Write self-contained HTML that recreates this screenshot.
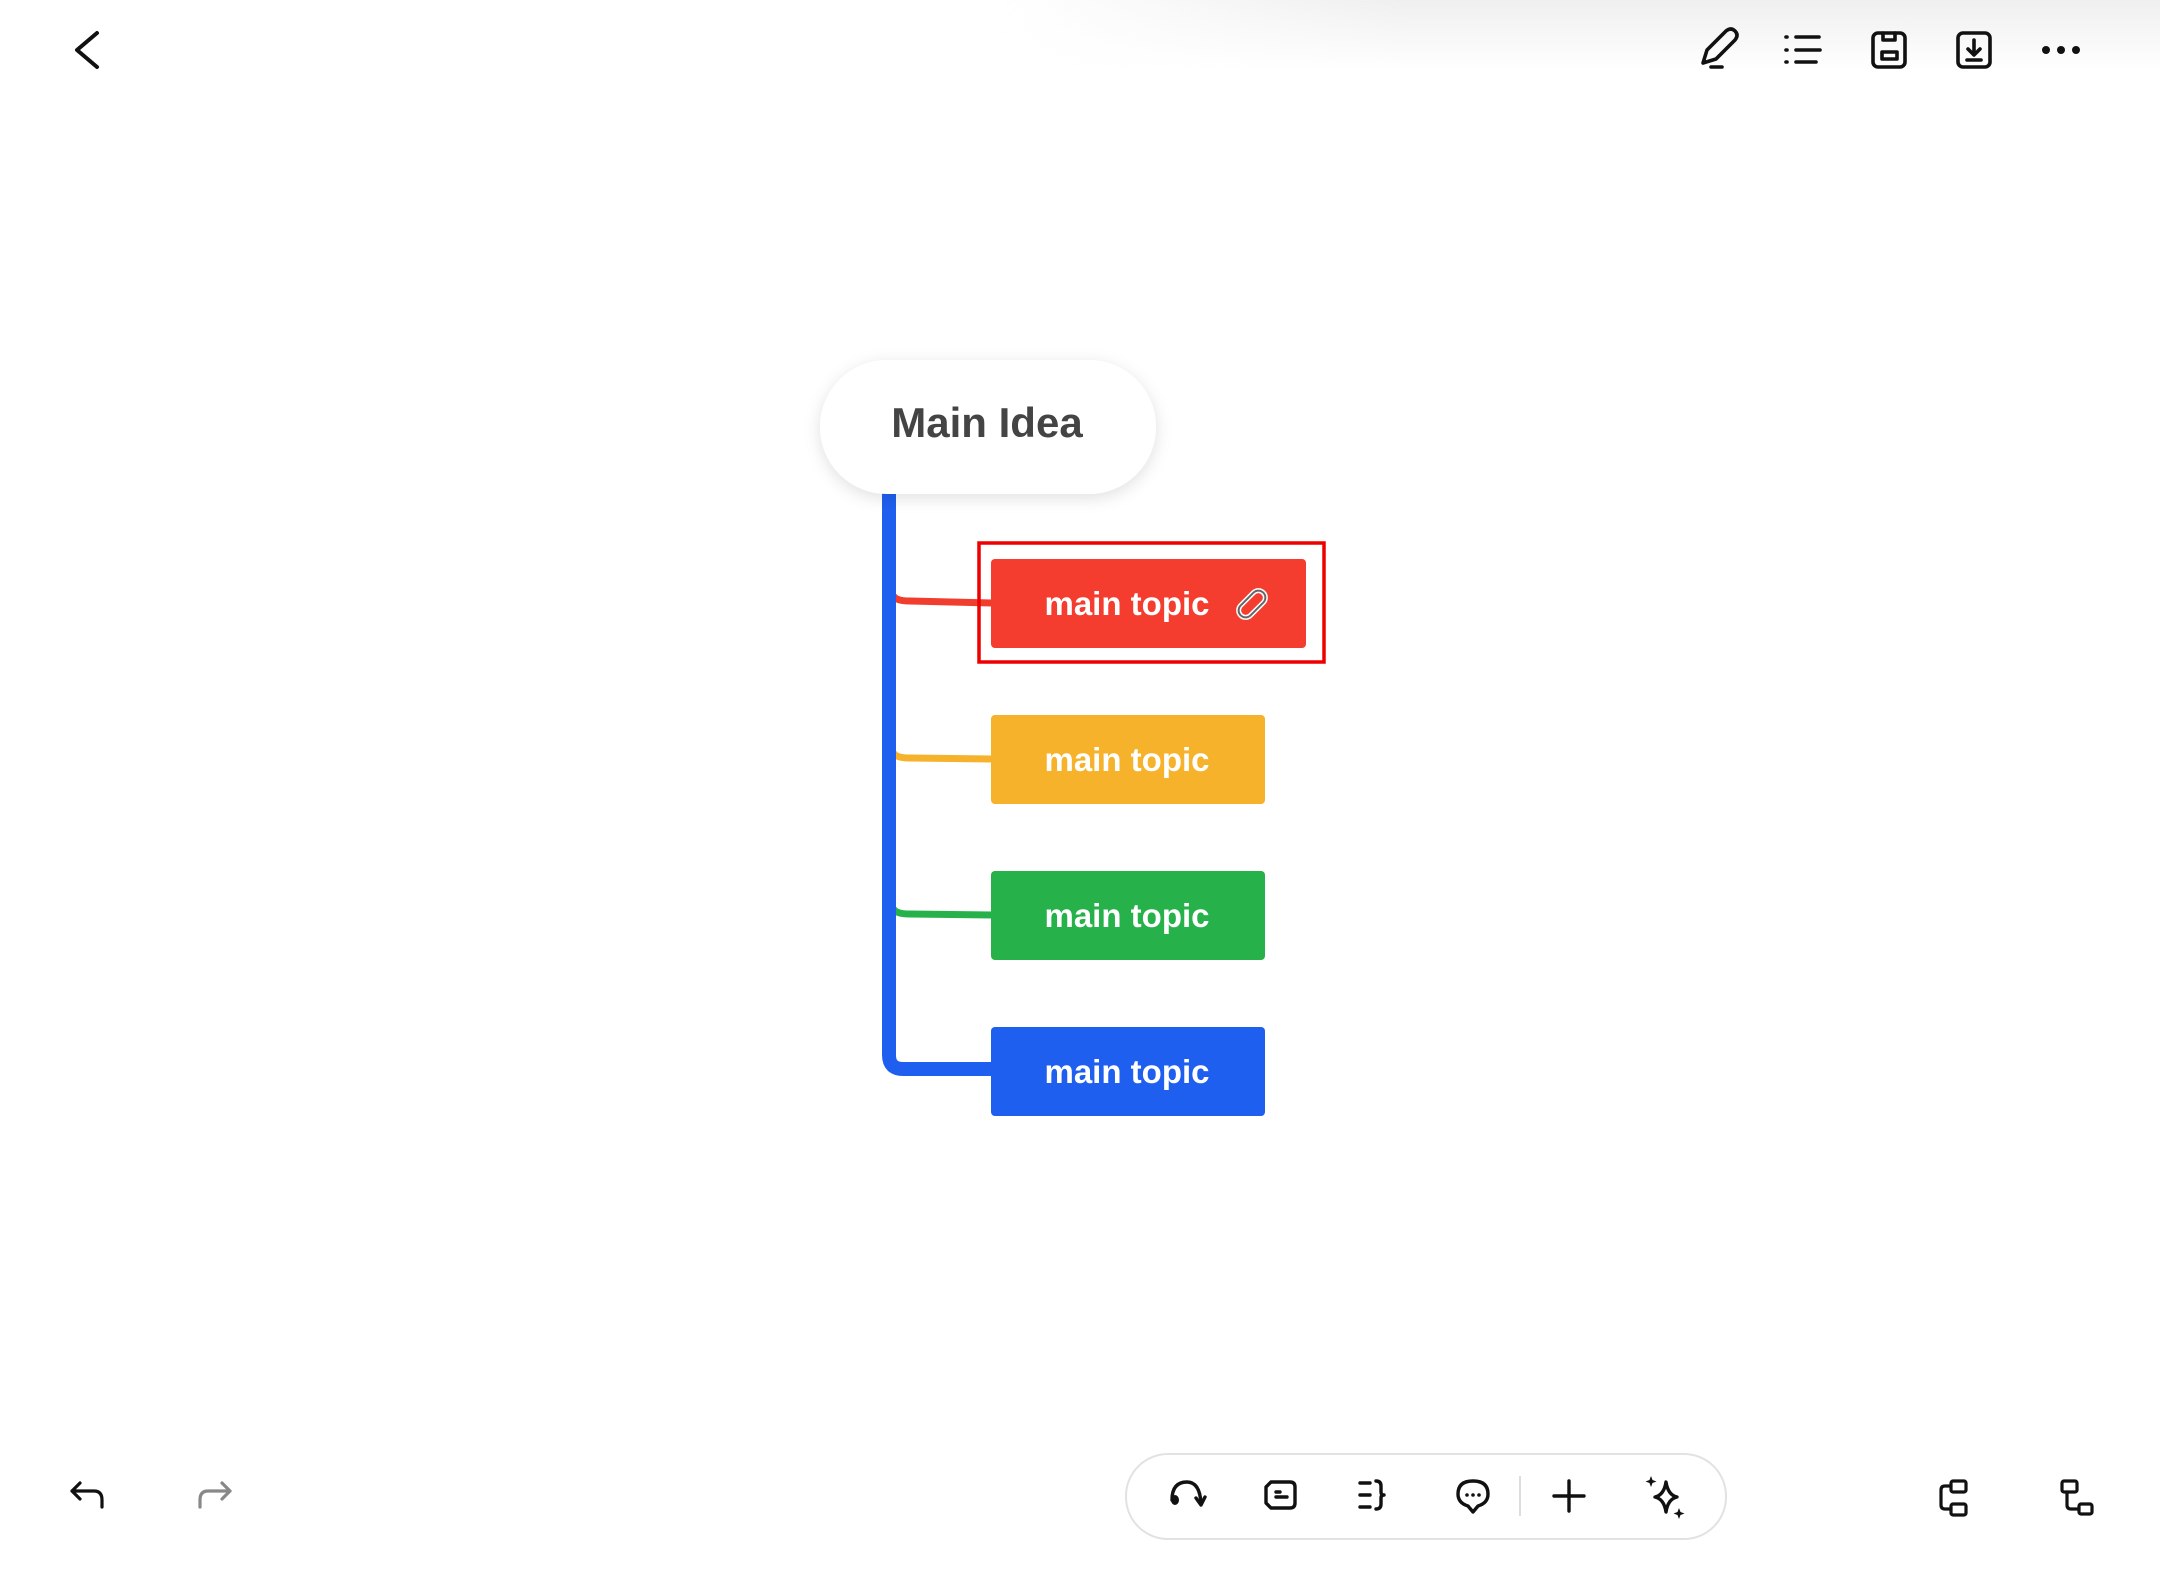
<!DOCTYPE html>
<html><head><meta charset="utf-8"><style>
html,body{margin:0;padding:0;background:#fff;}
body{width:2160px;height:1580px;overflow:hidden;position:relative;font-family:"Liberation Sans",sans-serif;}
.topshade{position:absolute;left:1000px;top:0;width:1160px;height:70px;background:linear-gradient(to bottom,#efefef,rgba(255,255,255,0));-webkit-mask-image:linear-gradient(to right,transparent,#000 35%);mask-image:linear-gradient(to right,transparent,#000 35%);}
svg{position:absolute;left:0;top:0;}
</style></head><body>
<div class="topshade"></div>
<svg width="2160" height="1580" viewBox="0 0 2160 1580" xmlns="http://www.w3.org/2000/svg">
<defs>
<filter id="sh" x="-20%" y="-30%" width="140%" height="160%"><feDropShadow dx="0" dy="4" stdDeviation="8" flood-color="#000" flood-opacity="0.12"/></filter>
</defs>
<path d="M97 33 L77 50 L97 67" fill="none" stroke="#111" stroke-width="4" stroke-linecap="round" stroke-linejoin="round"/>
<g fill="none" stroke="#111" stroke-width="3.6" stroke-linecap="round" stroke-linejoin="round">
  <path d="M1703 63 L1707 50 L1726 31 Q1731 27 1735 31 Q1739 35 1735 40 L1716 59 Z"/>
  <path d="M1711 67 L1722 67"/>
  <path d="M1786 37 L1787 37 M1786 50 L1787 50 M1786 62 L1787 62"/>
  <path d="M1796 37 L1819 37 M1796 50 L1820 50 M1796 62 L1816 62"/>
  <rect x="1873" y="33" width="32" height="34" rx="5"/>
  <path d="M1883 33 L1883 40 L1895 40 L1895 33"/>
  <rect x="1882" y="52" width="15" height="7"/>
  <rect x="1958" y="33" width="32" height="34" rx="5"/>
  <path d="M1974 40 L1974 54 M1968 49 L1974 55 L1980 49 M1967 60 L1981 60"/>
</g>
<g fill="#111"><circle cx="2046" cy="50" r="4"/><circle cx="2061" cy="50" r="4"/><circle cx="2076" cy="50" r="4"/></g>

<g fill="none" stroke-width="7" stroke-linecap="butt">
  <path d="M893 595 Q895 601 910 601 L992 603" stroke="#f03d2d"/>
  <path d="M893 752 Q895 758 910 758 L992 759" stroke="#f6b22a"/>
  <path d="M893 908 Q895 914 910 914 L992 915" stroke="#27b14b"/>
</g>
<path d="M889 492 L889 1055 Q889 1069 903 1069 L992 1069" fill="none" stroke="#1f5ff0" stroke-width="14"/>

<rect x="820" y="360" width="336" height="134" rx="67" fill="#fff" filter="url(#sh)"/>
<text x="987" y="437" text-anchor="middle" font-family="Liberation Sans, sans-serif" font-weight="bold" font-size="42" fill="#444">Main Idea</text>

<rect x="979" y="543" width="345" height="119" fill="none" stroke="#e00" stroke-width="3.5"/>
<rect x="991" y="559" width="315" height="89" rx="4" fill="#f43d2e"/>
<text x="1127" y="615" text-anchor="middle" font-family="Liberation Sans, sans-serif" font-weight="bold" font-size="33" fill="#fff">main topic</text>
<g transform="translate(1252,604) rotate(-45)">
  <rect x="-16" y="-7" width="32" height="14" rx="7" fill="none" stroke="#fff" stroke-width="5"/>
  <rect x="-16" y="-7" width="32" height="14" rx="7" fill="none" stroke="#666" stroke-width="2"/>
</g>
<rect x="991" y="715" width="274" height="89" rx="4" fill="#f6b22a"/>
<text x="1127" y="771" text-anchor="middle" font-family="Liberation Sans, sans-serif" font-weight="bold" font-size="33" fill="#fff">main topic</text>
<rect x="991" y="871" width="274" height="89" rx="4" fill="#27b14b"/>
<text x="1127" y="927" text-anchor="middle" font-family="Liberation Sans, sans-serif" font-weight="bold" font-size="33" fill="#fff">main topic</text>
<rect x="991" y="1027" width="274" height="89" rx="4" fill="#1f5ff0"/>
<text x="1127" y="1083" text-anchor="middle" font-family="Liberation Sans, sans-serif" font-weight="bold" font-size="33" fill="#fff">main topic</text>

<g fill="none" stroke-width="3.2" stroke-linecap="round" stroke-linejoin="round">
  <path d="M80 1483 L72 1491 L80 1499 M72 1491 L94 1491 Q102 1491 102 1500 L102 1507" stroke="#111"/>
  <path d="M222 1483 L230 1491 L222 1499 M230 1491 L208 1491 Q200 1491 200 1500 L200 1507" stroke="#888"/>
</g>

<rect x="1126" y="1454" width="600" height="85" rx="42" fill="#fff" stroke="#e2e2e2" stroke-width="2"/>
<line x1="1520" y1="1476" x2="1520" y2="1516" stroke="#ddd" stroke-width="2"/>
<g fill="none" stroke="#111" stroke-width="3.4" stroke-linecap="round" stroke-linejoin="round">
  <path d="M1172 1500 Q1172 1482 1187 1482 Q1200 1482 1201 1504"/>
  <path d="M1196 1498 L1201 1505 L1205 1497"/>
  <path d="M1271 1482 L1290 1482 Q1295 1482 1295 1487 L1295 1503 Q1295 1508 1290 1508 L1271 1508 L1266 1503 L1266 1487 Z"/>
  <path d="M1276 1492 L1280 1492 M1276 1497 L1287 1497"/>
  <path d="M1360 1483 L1370 1483 M1360 1495 L1370 1495 M1360 1507 L1370 1507"/>
  <path d="M1376 1481 Q1381 1481 1381 1486 L1381 1492 Q1381 1495 1384 1495 Q1381 1495 1381 1498 L1381 1504 Q1381 1509 1376 1509"/>
  <path d="M1473 1512 L1468 1506 Q1458 1503 1458 1494 Q1458 1481 1473 1481 Q1488 1481 1488 1494 Q1488 1503 1478 1506 Z"/>
  <path d="M1569 1481 L1569 1511 M1554 1496 L1584 1496"/>
  <path d="M1666 1482 Q1668 1495 1677 1497 Q1668 1499 1666 1512 Q1664 1499 1655 1497 Q1664 1495 1666 1482 Z"/>
</g>
<g fill="#111"><circle cx="1467" cy="1495" r="1.8"/><circle cx="1473" cy="1495" r="1.8"/><circle cx="1479" cy="1495" r="1.8"/>
<path d="M1651 1476 l1.5 4 4 1.5 -4 1.5 -1.5 4 -1.5 -4 -4 -1.5 4 -1.5z"/>
<path d="M1679 1508 l1.5 4 4 1.5 -4 1.5 -1.5 4 -1.5 -4 -4 -1.5 4 -1.5z"/>
<ellipse cx="1175" cy="1500" rx="4" ry="5"/></g>

<g fill="none" stroke="#111" stroke-width="3.2" stroke-linecap="round" stroke-linejoin="round">
  <rect x="1951" y="1481" width="15" height="11" rx="2"/>
  <rect x="1951" y="1504" width="15" height="11" rx="2"/>
  <path d="M1951 1486 L1945 1486 Q1941 1486 1941 1490 L1941 1505 Q1941 1509 1945 1509 L1951 1509"/>
  <rect x="2062" y="1481" width="15" height="11" rx="2"/>
  <rect x="2079" y="1504" width="13" height="10" rx="2"/>
  <path d="M2067 1492 L2067 1505 Q2067 1509 2071 1509 L2079 1509"/>
</g>
</svg>
</body></html>
